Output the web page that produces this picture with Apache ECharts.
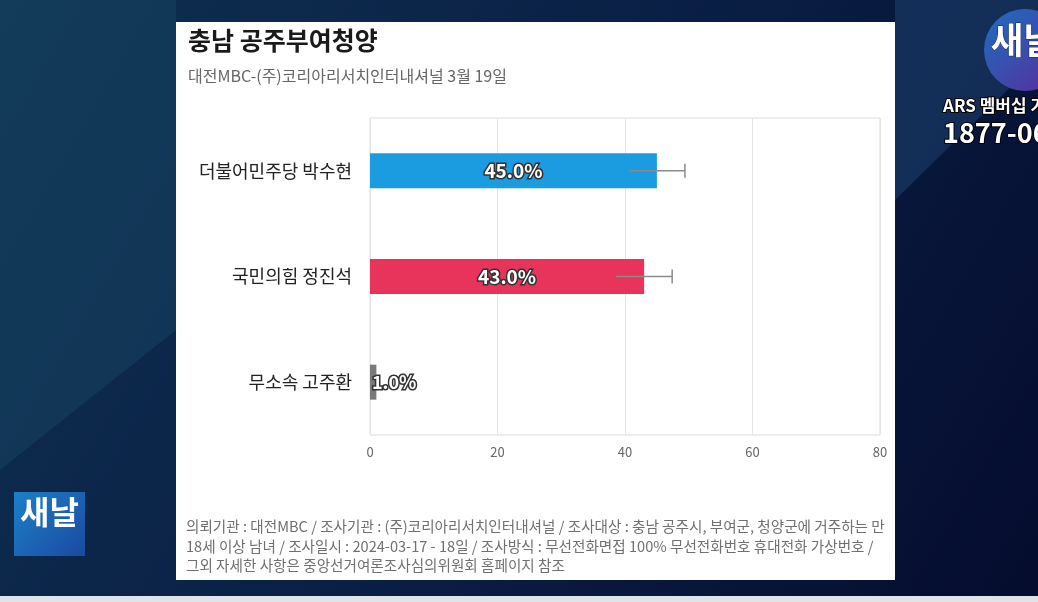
<!DOCTYPE html>
<html><head><meta charset="utf-8">
<script src="https://cdn.jsdelivr.net/npm/echarts@6/dist/echarts.min.js"></script>
<style>html,body{margin:0;padding:0;background:#07143a;}#c{width:1038px;height:602px;}</style>
</head><body><div id="c"></div>
<script>
const categories = ['더불어민주당 박수현', '국민의힘 정진석', '무소속 고주환'];
const values = [45.0, 43.0, 1.0];
const errLow = [40.6, 38.6, null];
const errHigh = [49.4, 47.4, null];
const barColors = ['#1b9be0', '#e8345b', '#7a7a7a'];
const xTicks = [0, 20, 40, 60, 80];
const titleText = '충남 공주부여청양';
const subText = '대전MBC-(주)코리아리서치인터내셔널 3월 19일';
const footLines = [
  '의뢰기관 : 대전MBC / 조사기관 : (주)코리아리서치인터내셔널 / 조사대상 : 충남 공주시, 부여군, 청양군에 거주하는 만',
  '18세 이상 남녀 / 조사일시 : 2024-03-17 - 18일 / 조사방식 : 무선전화면접 100% 무선전화번호 휴대전화 가상번호 /',
  '그외 자세한 사항은 중앙선거여론조사심의위원회 홈페이지 참조'
];

const F = '"Noto Sans CJK KR", "Noto Sans", sans-serif';
const chart = echarts.init(document.getElementById('c'));
const cats = categories.slice().reverse();
const vals = values.slice().reverse();
const cols = barColors.slice().reverse();
const lo = errLow.slice().reverse();
const hi = errHigh.slice().reverse();

chart.setOption({
  backgroundColor: {
    type: 'linear', x: 0, y: 0, x2: 1, y2: 1,
    colorStops: [{offset: 0, color: '#0e3050'}, {offset: 0.5, color: '#0a1f45'}, {offset: 1, color: '#050c2e'}]
  },
  graphic: [
    {type: 'polygon', z: -10, shape: {points: [[0, 0], [176, 0], [176, 330], [0, 470]]}, style: {fill: 'rgba(30,80,110,0.35)'}},
    {type: 'polygon', z: -10, shape: {points: [[895, 0], [1038, 0], [1038, 60], [895, 200]]}, style: {fill: 'rgba(40,90,140,0.35)'}},
    {type: 'rect', z: -5, shape: {x: 176, y: 22, width: 719, height: 558}, style: {fill: '#ffffff'}},
    {type: 'rect', z: -5, shape: {x: 0, y: 596, width: 1038, height: 6}, style: {fill: '#dfe3ea'}},
    {type: 'text', left: 188, top: 28, style: {text: titleText, font: 'bold 25px ' + F, fill: '#1a1a1a'}},
    {type: 'text', left: 188, top: 68, style: {text: subText, font: '16px ' + F, fill: '#666'}},
    {type: 'text', left: 186, top: 517, style: {text: footLines.join('\n'), font: '14.6px ' + F, fill: '#707070', lineHeight: 19.5}},
    // top-right logo
    {type: 'circle', shape: {cx: 1025, cy: 50, r: 41}, style: {fill: {type: 'linear', x: 0, y: 0, x2: 1, y2: 1, colorStops: [{offset: 0, color: '#1d6fc0'}, {offset: 1, color: '#5a2a9a'}]}}},
    {type: 'text', left: 990, top: 22, style: {text: '새날', font: 'bold 36px ' + F, fill: '#ffffff', stroke: '#0a2a60', lineWidth: 1}},
    {type: 'text', left: 942, top: 96, style: {text: 'ARS 멤버십 가입', font: 'bold 17px ' + F, fill: '#ffffff', stroke: '#000', lineWidth: 2}},
    {type: 'text', left: 942, top: 118, style: {text: '1877-0600', font: 'bold 27px ' + F, fill: '#ffffff', stroke: '#000', lineWidth: 2}},
    // bottom-left logo
    {type: 'rect', shape: {x: 14, y: 492, width: 71, height: 64}, style: {fill: {type: 'linear', x: 0, y: 0, x2: 1, y2: 1, colorStops: [{offset: 0, color: '#1e7fc8'}, {offset: 1, color: '#1a4aa0'}]}}},
    {type: 'text', left: 20, top: 496, style: {text: '새날', font: 'bold 32px ' + F, fill: '#ffffff'}}
  ],
  grid: {left: 370, right: 158, top: 118, bottom: 167, show: true, borderColor: '#dcdcdc', borderWidth: 1},
  xAxis: {
    type: 'value', min: xTicks[0], max: xTicks[xTicks.length - 1], interval: 20,
    axisLine: {show: false}, axisTick: {show: false},
    splitLine: {lineStyle: {color: '#e6e6e6'}},
    axisLabel: {color: '#666', fontSize: 13, fontFamily: F, margin: 11}
  },
  yAxis: {
    type: 'category', data: cats,
    axisLine: {show: false}, axisTick: {show: false},
    axisLabel: {color: '#222', fontSize: 18, fontFamily: F, margin: 18}
  },
  series: [
    {
      type: 'bar', barWidth: 35,
      data: vals.map((v, i) => ({
        value: v,
        itemStyle: {color: cols[i]},
        label: {position: v < 5 ? 'insideLeft' : 'inside', offset: v < 5 ? [-3, 0] : [0, 0], fontSize: v < 5 ? 18 : 19}
      })),
      label: {
        show: true, formatter: p => p.value.toFixed(1) + '%',
        color: '#fff', fontSize: 19, fontWeight: 'bold', fontFamily: F,
        textBorderColor: '#333', textBorderWidth: 3
      }
    },
    {
      type: 'custom', z: 5,
      data: cats.map((c, i) => [i, lo[i], hi[i]]).filter(d => d[1] != null),
      renderItem: (params, api) => {
        const y = api.value(0);
        const a = api.coord([api.value(1), y]);
        const b = api.coord([api.value(2), y]);
        const h = 7;
        return {type: 'group', children: [
          {type: 'line', shape: {x1: a[0], y1: a[1], x2: b[0], y2: b[1]}, style: {stroke: '#8a8a8a', lineWidth: 1.5}},
          {type: 'line', shape: {x1: b[0], y1: b[1] - h, x2: b[0], y2: b[1] + h}, style: {stroke: '#8a8a8a', lineWidth: 1.5}}
        ]};
      }
    }
  ]
});
</script></body></html>
